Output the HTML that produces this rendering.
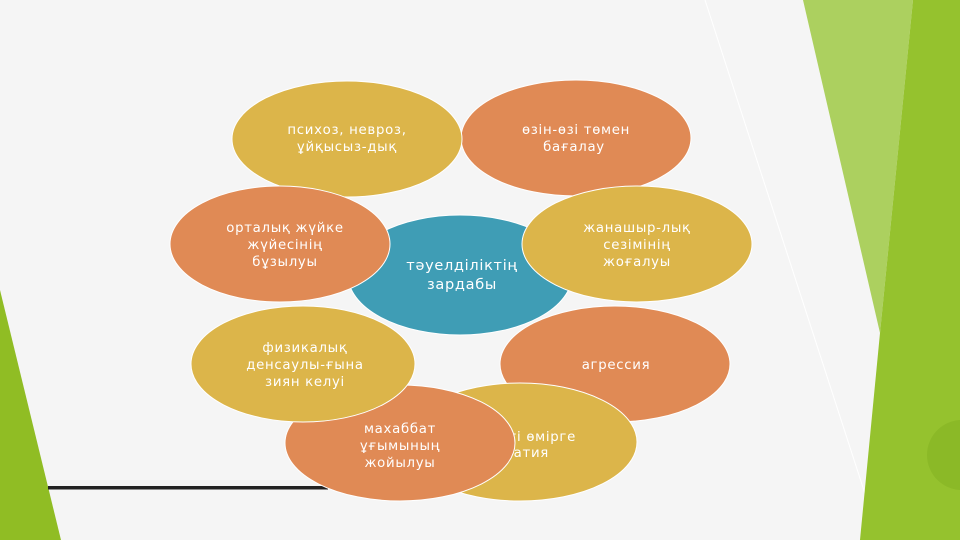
<!DOCTYPE html>
<html><head><meta charset="utf-8"><style>
html,body{margin:0;padding:0;background:#f5f5f5;}
svg{display:block;}
text{font-family:"DejaVu Sans","Liberation Sans",sans-serif;fill:#fff;font-size:13.3px;letter-spacing:0.7px;text-anchor:middle;}
</style></head><body>
<svg width="960" height="540" viewBox="0 0 960 540">
<rect width="960" height="540" fill="#f5f5f5"/>
<line x1="705" y1="0" x2="880" y2="540" stroke="#fff" stroke-width="1"/>
<polygon points="803,0 913,0 880,333" fill="#acd05f"/>
<polygon points="913,0 960,0 960,540 860,540 880,333" fill="#95c22e"/>
<circle cx="962" cy="455" r="35" fill="#8bb927"/>
<polygon points="0,290 61,540 0,540" fill="#90bd24"/>
<rect x="48" y="486" width="280" height="3.5" fill="#222"/>
<g stroke="#fff" stroke-width="1">
<ellipse cx="460" cy="275" rx="112" ry="60" fill="#3f9db5"/>
<ellipse cx="576" cy="138" rx="115" ry="58" fill="#e08a55"/>
<ellipse cx="347" cy="139" rx="115" ry="58" fill="#dcb54a"/>
<ellipse cx="280" cy="244" rx="110" ry="58" fill="#e08a55"/>
<ellipse cx="637" cy="244" rx="115" ry="58" fill="#dcb54a"/>
<ellipse cx="615" cy="364" rx="115" ry="58" fill="#e08a55"/>
<ellipse cx="520" cy="442" rx="117" ry="59" fill="#dcb54a"/>
</g>
<text x="576" y="441" style="text-anchor:end">бүгінгі өмірге</text>
<text x="549" y="457" style="text-anchor:end">апатия</text>
<g stroke="#fff" stroke-width="1">
<ellipse cx="400" cy="443" rx="115" ry="58" fill="#e08a55"/>
<ellipse cx="303" cy="364" rx="112" ry="58" fill="#dcb54a"/>
</g>
<text x="347" y="134">психоз, невроз,</text>
<text x="347" y="151">ұйқысыз-дық</text>
<text x="576" y="134">өзін-өзі төмен</text>
<text x="574" y="151">бағалау</text>
<text x="462" y="270" style="font-size:14.5px">тәуелділіктің</text>
<text x="462" y="289" style="font-size:14.5px">зардабы</text>
<text x="285" y="232">орталық жүйке</text>
<text x="285" y="249">жүйесінің</text>
<text x="285" y="266">бұзылуы</text>
<text x="637" y="232">жанашыр-лық</text>
<text x="637" y="249">сезімінің</text>
<text x="637" y="266">жоғалуы</text>
<text x="616" y="369">агрессия</text>
<text x="305" y="352">физикалық</text>
<text x="305" y="369">денсаулы-ғына</text>
<text x="305" y="386">зиян келуі</text>
<text x="400" y="433">махаббат</text>
<text x="400" y="450">ұғымының</text>
<text x="400" y="467">жойылуы</text>
</svg>
</body></html>
